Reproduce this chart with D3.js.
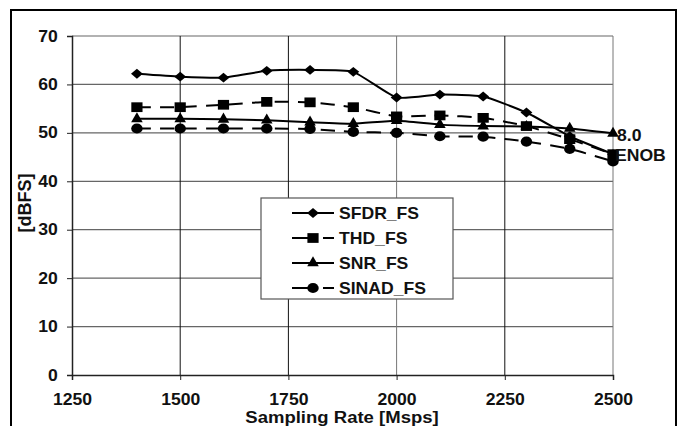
<!DOCTYPE html>
<html>
<head>
<meta charset="utf-8">
<script src="https://cdn.jsdelivr.net/npm/d3@7"></script>
<style>
  body { margin: 0; background: #fff; }
  text { font-family: "Liberation Sans", Arial, sans-serif; font-weight: bold; fill: #111; }
</style>
</head>
<body>
<script>
// sampling rates (Msps)
const rates = [1400, 1500, 1600, 1700, 1800, 1900, 2000, 2100, 2200, 2300, 2400, 2500];
const sfdr  = [62.2, 61.6, 61.4, 62.8, 63.0, 62.6, 57.3, 57.9, 57.5, 54.2, 49.3, 45.6];
const thd   = [55.3, 55.3, 55.8, 56.4, 56.3, 55.3, 53.4, 53.6, 53.1, 51.4, 48.7, 45.6];
const snr   = [52.9, 52.9, 52.8, 52.6, 52.2, 51.9, 52.5, 51.7, 51.4, 51.3, 50.9, 49.9];
const sinad = [50.9, 50.9, 50.9, 50.9, 50.8, 50.2, 50.0, 49.3, 49.2, 48.2, 46.7, 44.1];
const xTicks = [1250, 1500, 1750, 2000, 2250, 2500];
const yTicks = [0, 10, 20, 30, 40, 50, 60, 70];

const series = [
  {name: "SFDR_FS",  values: sfdr,  symbol: d3.symbolDiamond2, size: 62, sx: 1.2, dash: null},
  {name: "THD_FS",   values: thd,   symbol: d3.symbolSquare,   size: 95, sx: 1.15, dash: "14,9"},
  {name: "SNR_FS",   values: snr,   symbol: d3.symbolTriangle, size: 58, sx: 1, dash: null},
  {name: "SINAD_FS", values: sinad, symbol: d3.symbolCircle,   size: 82, sx: 1.12, dash: "14,9"}
];

const W = 681, H = 426;
const SX = 1.1; // the lettering in the picture is a bit wide
const svg = d3.select("body").append("svg").attr("width", W).attr("height", H);

// text placed at x,y with the wide look
function label(x0, y0, s, size, anchor, sx) {
  return svg.append("text")
    .attr("transform", `translate(${x0},${y0}) scale(${sx || SX},1)`)
    .attr("text-anchor", anchor || "start")
    .attr("font-size", size).text(s);
}

// outer frame
svg.append("rect")
  .attr("x", 11).attr("y", 10).attr("width", 665).attr("height", 430)
  .attr("fill", "none").attr("stroke", "#000").attr("stroke-width", 2);

const x = d3.scaleLinear().domain([1250, 2500]).range([72, 613]);
const y = d3.scaleLinear().domain([0, 70]).range([375, 36]);

// grid
svg.append("g").selectAll("line").data(yTicks.slice(1))
  .join("line")
  .attr("x1", x(1250)).attr("x2", x(2500))
  .attr("y1", d => y(d)).attr("y2", d => y(d))
  .attr("stroke", "#666").attr("stroke-width", 1.2);
svg.append("g").selectAll("line").data(xTicks.slice(1))
  .join("line")
  .attr("x1", d => x(d)).attr("x2", d => x(d))
  .attr("y1", y(0)).attr("y2", y(70))
  .attr("stroke", d => d === 2000 || d === 2500 ? "#777" : "#111").attr("stroke-width", 1);

// axes
const yAxis = svg.append("g").attr("transform", `translate(${x(1250)},0)`)
  .call(d3.axisLeft(y).tickValues(yTicks).tickSize(5).tickPadding(8));
const xAxis = svg.append("g").attr("transform", `translate(0,${y(0)})`)
  .call(d3.axisBottom(x).tickValues(xTicks).tickFormat(d3.format("d")).tickSize(5).tickPadding(14));
[yAxis, xAxis].forEach(a => {
  a.select(".domain").attr("stroke", "#222").attr("stroke-width", 1.5);
  a.selectAll("line").attr("stroke", "#222");
  a.selectAll("text").attr("font-size", 16).attr("fill", "#111")
    .attr("transform", `scale(${SX},1)`)
    .style("font-family", '"Liberation Sans", Arial, sans-serif').style("font-weight", "bold");
});

// axis titles
label(342, 423, "Sampling Rate [Msps]", 17, "middle", 1.09);
svg.append("text").attr("transform", "translate(31,203) rotate(-90)")
  .attr("text-anchor", "middle").attr("font-size", 18).text("[dBFS]");

// series lines
const line = d3.line().x((d, i) => x(rates[i])).y(d => y(d)).curve(d3.curveCardinal.tension(0.5));
series.forEach(s => {
  svg.append("path").datum(s.values)
    .attr("d", line)
    .attr("fill", "none").attr("stroke", "#000").attr("stroke-width", 2)
    .attr("stroke-dasharray", s.dash);
});
series.forEach(s => {
  svg.append("g").selectAll("path").data(s.values)
    .join("path")
    .attr("transform", (d, i) => `translate(${x(rates[i])},${y(d)}) scale(${s.sx},1)`)
    .attr("d", d3.symbol(s.symbol, s.size))
    .attr("fill", "#000");
});

// end labels
label(x(2500) + 4, y(snr[11]) + 8, "8.0", 16);
label(x(2500) + 2, y(thd[11]) + 7, "ENOB", 16);

// legend
const lg = svg.append("g");
lg.append("rect").attr("x", 261).attr("y", 198).attr("width", 192).attr("height", 101)
  .attr("fill", "#fff").attr("stroke", "#555").attr("stroke-width", 1.2);
series.forEach((s, i) => {
  const yy = 213 + i * 25;
  lg.append("line").attr("x1", 292).attr("x2", 334).attr("y1", yy).attr("y2", yy)
    .attr("stroke", "#000").attr("stroke-width", 2)
    .attr("stroke-dasharray", s.dash ? "20,11,11" : null);
  lg.append("path").attr("transform", `translate(313,${yy}) scale(${s.sx},1)`)
    .attr("d", d3.symbol(s.symbol, s.size)).attr("fill", "#000");
  label(339, yy + 6, s.name, 16);
});
</script>
</body>
</html>
